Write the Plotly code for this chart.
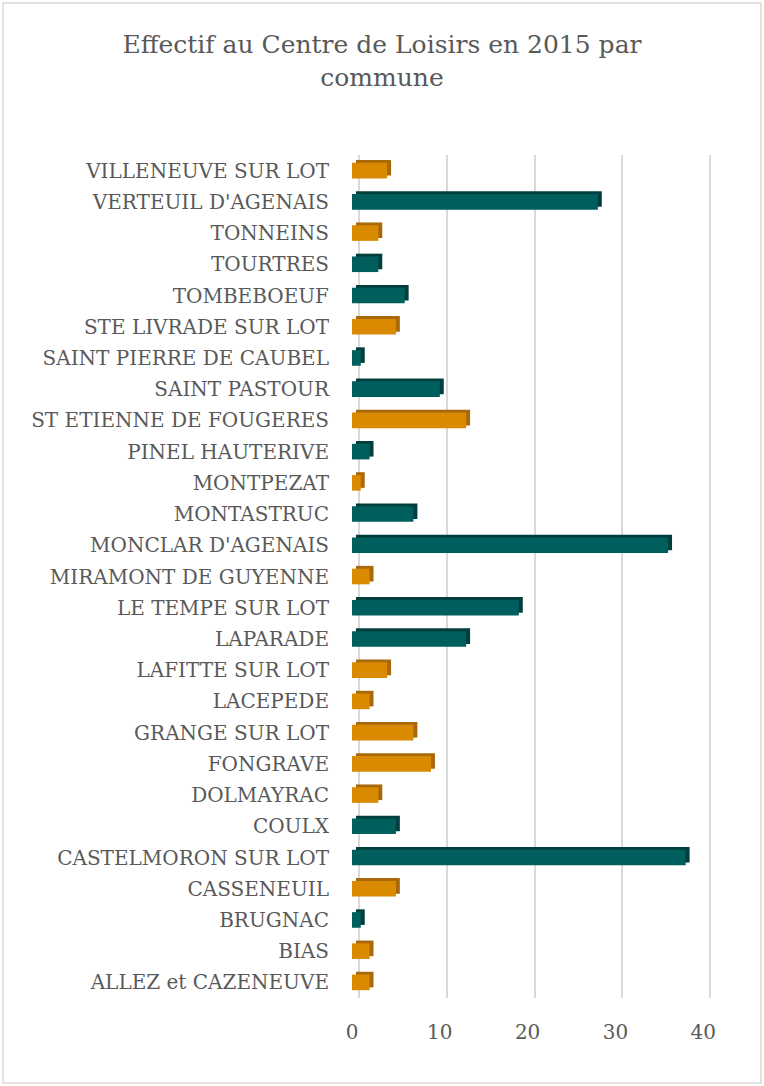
import plotly.graph_objects as go

communes = [
    "VILLENEUVE SUR LOT", "VERTEUIL D'AGENAIS", "TONNEINS", "TOURTRES", "TOMBEBOEUF",
    "STE LIVRADE SUR LOT", "SAINT PIERRE DE CAUBEL", "SAINT PASTOUR", "ST ETIENNE DE FOUGERES",
    "PINEL HAUTERIVE", "MONTPEZAT", "MONTASTRUC", "MONCLAR D'AGENAIS", "MIRAMONT DE GUYENNE",
    "LE TEMPE SUR LOT", "LAPARADE", "LAFITTE SUR LOT", "LACEPEDE", "GRANGE SUR LOT",
    "FONGRAVE", "DOLMAYRAC", "COULX", "CASTELMORON SUR LOT", "CASSENEUIL", "BRUGNAC",
    "BIAS", "ALLEZ et CAZENEUVE",
]
effectif = [4, 28, 3, 3, 6, 5, 1, 10, 13, 2, 1, 7, 36, 2, 19, 13, 4, 2, 7, 9, 3, 5, 38, 5, 1, 2, 2]
groupe = ["o", "t", "o", "t", "t", "o", "t", "t", "o", "t", "o", "t", "t", "o", "t", "t",
          "o", "o", "o", "o", "o", "t", "t", "o", "t", "o", "o"]
x_ticks = [0, 10, 20, 30, 40]

front_col = {"o": "#D98A00", "t": "#005E5C"}
back_col = {"o": "#A8690A", "t": "#003F3D"}

W, H = 764, 1086
ML, MR, MT, MB = 352, 52, 155, 88
GRAY = "#595959"
FONT = "DejaVu Serif"

fig = go.Figure()
# depth (3D side/top) bars
fig.add_trace(go.Bar(
    y=communes, x=effectif, base=0.45, orientation="h",
    width=0.5, offset=-0.34,
    marker=dict(color=[back_col[g] for g in groupe], line=dict(width=0)),
    hoverinfo="skip", showlegend=False,
))
# front faces
fig.add_trace(go.Bar(
    y=communes, x=effectif, orientation="h",
    width=0.5, offset=-0.25,
    marker=dict(color=[front_col[g] for g in groupe], line=dict(width=0)),
    showlegend=False,
))

pw = W - ML - MR
ph = H - MT - MB
fig.add_shape(
    type="rect", xref="paper", yref="paper",
    x0=(3 - ML) / pw, x1=(761 - ML) / pw,
    y0=(H - MB - 1083) / ph, y1=(H - MB - 3) / ph,
    line=dict(color="#D9D9D9", width=1.5), fillcolor="rgba(0,0,0,0)", layer="below",
)

fig.update_layout(
    width=W, height=H,
    margin=dict(l=ML, r=MR, t=MT, b=MB),
    paper_bgcolor="white", plot_bgcolor="white",
    barmode="overlay",
    title=dict(
        text="Effectif au Centre de Loisirs en 2015 par<br>commune",
        x=0.5, xanchor="center", xref="container",
        y=1 - 53 / H, yanchor="top", yref="container",
        font=dict(family=FONT, size=25, color=GRAY),
    ),
    xaxis=dict(
        range=[0, 41], tickvals=x_ticks, showgrid=False, zeroline=False,
        showline=False, ticks="", ticklabelstandoff=20,
        tickfont=dict(family=FONT, size=20, color=GRAY),
        minor=dict(tickvals=[t + 0.8 for t in x_ticks], showgrid=True,
                   gridcolor="#D9D9D9", gridwidth=2, ticks=""),
    ),
    yaxis=dict(
        autorange="reversed", showgrid=False, zeroline=False, showline=False,
        ticks="", ticklabelstandoff=22,
        tickfont=dict(family=FONT, size=20, color=GRAY),
    ),
)

fig.write_html(
    "out.html",
    config={"displayModeBar": False},
    post_script="document.body.style.margin='0';document.body.style.overflow='hidden';",
)
